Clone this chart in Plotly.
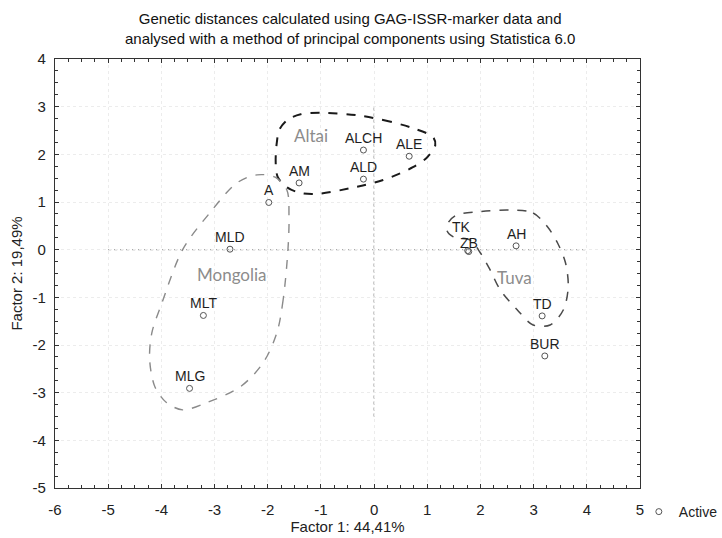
import plotly.graph_objects as go

# ---- data ----
labels = ["ALCH", "ALE", "ALD", "AM", "A", "MLD", "MLT", "MLG", "TK", "ZB", "AH", "TD", "BUR"]
factor1 = [-0.20, 0.66, -0.20, -1.41, -1.98, -2.71, -3.21, -3.47, 1.76, 1.78, 2.67, 3.16, 3.21]
factor2 = [2.09, 1.96, 1.48, 1.40, 0.99, 0.01, -1.38, -2.91, -0.02, -0.04, 0.08, -1.39, -2.23]

groups = ["Altai", "Mongolia", "Tuva"]
group_label_x = [-1.19, -2.67, 2.64]
group_label_y = [2.40, -0.53, -0.59]

altai_x = [-0.32, 0.17, 0.73, 1.11, 1.15, 1.00, 0.73, 0.17, -0.45, -1.07, -1.39, -1.64, -1.81, -1.85, -1.83, -1.78, -1.62, -1.38, -0.96]
altai_y = [2.82, 2.72, 2.55, 2.36, 2.19, 1.94, 1.73, 1.46, 1.29, 1.17, 1.19, 1.31, 1.52, 1.82, 2.24, 2.52, 2.73, 2.84, 2.87]
mongolia_x = [-1.62, -1.71, -1.83, -2.09, -2.52, -3.15, -3.60, -3.90, -4.12, -4.22, -4.18, -3.99, -3.60, -3.09, -2.58, -2.20, -1.86, -1.64, -1.60]
mongolia_y = [0.0, -1.05, -1.75, -2.38, -2.88, -3.21, -3.36, -3.21, -2.88, -2.31, -1.75, -1.12, 0.0, 0.77, 1.40, 1.57, 1.52, 1.25, 0.69]
tuva_x = [2.56, 2.99, 3.26, 3.45, 3.60, 3.65, 3.56, 3.31, 2.99, 2.69, 2.37, 2.18, 2.00, 1.81, 1.49, 1.37, 1.40, 1.56, 2.00]
tuva_y = [0.83, 0.77, 0.48, 0.14, -0.28, -0.78, -1.26, -1.58, -1.58, -1.26, -0.84, -0.42, -0.07, 0.20, 0.27, 0.40, 0.58, 0.73, 0.80]

x_ticks = [-6, -5, -4, -3, -2, -1, 0, 1, 2, 3, 4, 5]
y_ticks = [-5, -4, -3, -2, -1, 0, 1, 2, 3, 4]

title_text = ("Genetic distances calculated using GAG-ISSR-marker data and<br>"
              "analysed with a method of principal components using Statistica 6.0")

# label offsets (pixels) for overlapping labels
label_shift = {"TK": (-6, 24), "ZB": (0, 9)}

FONT = "Liberation Sans, Arial"

fig = go.Figure()

def closed(a):
    return list(a) + [a[0]]

outline_styles = [
    (altai_x, altai_y, "#1a1a1a", 2.0),
    (mongolia_x, mongolia_y, "#8a8a8a", 1.4),
    (tuva_x, tuva_y, "#4a4a4a", 1.5),
]
for xs, ys, col, w in outline_styles:
    fig.add_trace(go.Scatter(
        x=closed(xs), y=closed(ys), mode="lines",
        line=dict(color=col, width=w, dash="dash", shape="spline", smoothing=0.9),
        showlegend=False, hoverinfo="skip"))

fig.add_trace(go.Scatter(
    x=factor1, y=factor2, mode="markers", name="Active",
    marker=dict(symbol="circle-open", size=6, color="#555555", line=dict(width=1)),
    showlegend=True))

for lab, xv, yv in zip(labels, factor1, factor2):
    dx, dy = label_shift.get(lab, (0, 12))
    fig.add_annotation(x=xv, y=yv, text=lab, showarrow=False,
                       xshift=dx, yshift=dy,
                       font=dict(family=FONT, size=14, color="#1e1e1e"))

for g, gx, gy in zip(groups, group_label_x, group_label_y):
    fig.add_annotation(x=gx, y=gy, text=g, showarrow=False,
                       font=dict(family="Lato, Open Sans", size=17, color="#8c8c8c"))

# title as annotation
fig.add_annotation(xref="paper", yref="paper", x=0.504, y=1, yshift=10,
                   xanchor="center", yanchor="bottom", showarrow=False,
                   text=title_text, align="center",
                   font=dict(family=FONT, size=15, color="#111111"))

# central cross lines
fig.add_shape(type="line", x0=0, x1=0, y0=-3.5, y1=3.0, xref="x", yref="y",
              line=dict(color="#9a9a9a", width=1.2, dash="dot"), layer="below")
fig.add_shape(type="line", x0=-5, x1=4, y0=0, y1=0, xref="x", yref="y",
              line=dict(color="#9a9a9a", width=1.2, dash="dot"), layer="below")

axis_common = dict(
    showline=True, linecolor="#333333", linewidth=1.3, mirror="ticks",
    ticks="inside", ticklen=4, tickcolor="#333333", tickwidth=1,
    showgrid=True, gridcolor="#ececec", griddash="dot", gridwidth=1,
    zeroline=False, automargin=False,
    tickfont=dict(family=FONT, size=15, color="#222222"),
    minor=dict(ticks="inside", ticklen=3, dtick=0.25, tickcolor="#333333", showgrid=False),
)

fig.update_xaxes(range=[-6, 5], tickvals=x_ticks, ticktext=[str(v) for v in x_ticks],
                 ticklabelstandoff=8, **axis_common,
                 title=dict(text="Factor 1: 44,41%", standoff=4,
                            font=dict(family=FONT, size=15, color="#222222")))
fig.update_yaxes(range=[-5, 4], tickvals=y_ticks, ticktext=[str(v) for v in y_ticks],
                 ticklabelstandoff=5, **axis_common,
                 title=dict(text="Factor 2: 19,49%", standoff=6,
                            font=dict(family=FONT, size=15, color="#222222")))

fig.update_layout(
    width=722, height=538,
    margin=dict(l=55, r=82, t=59, b=50, autoexpand=False),
    paper_bgcolor="white", plot_bgcolor="white",
    legend=dict(x=0.998, xanchor="left", y=-0.056, yanchor="middle",
                font=dict(family=FONT, size=14, color="#222222"),
                bgcolor="rgba(0,0,0,0)", itemwidth=30),
    showlegend=True,
)

fig.write_html("out.html")
